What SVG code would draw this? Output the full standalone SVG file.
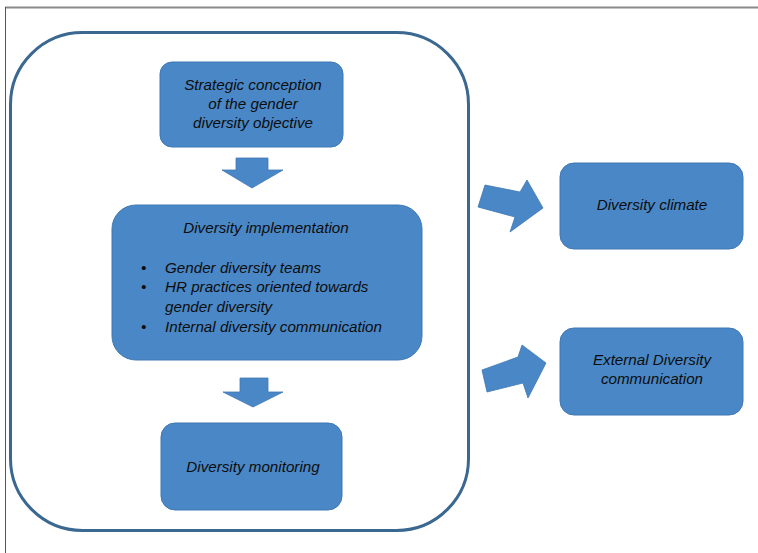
<svg xmlns="http://www.w3.org/2000/svg" width="758" height="553" viewBox="0 0 758 553">
  <style>
    .box { fill: #4A87C6; stroke: #3F78B3; stroke-width: 1; }
    .arrow { fill: #4A87C6; stroke: #3F78B3; stroke-width: 0.8; }
    .lbl { font-family: "Liberation Sans", Arial, sans-serif; font-style: italic; font-size: 15.2px; fill: #0d0d0d; }
    .mid { text-anchor: middle; }
  </style>
  <rect width="758" height="553" fill="#ffffff"/>

  <!-- page frame -->
  <line x1="5" y1="7.5" x2="758" y2="7.5" stroke="#8a8a8a" stroke-width="2"/>
  <line x1="5.5" y1="7" x2="5.5" y2="553" stroke="#555" stroke-width="1"/>

  <!-- internal process container -->
  <g id="container">
    <rect x="10.5" y="32.5" width="458" height="498" rx="72" ry="72" fill="none" stroke="#3B6890" stroke-width="3"/>
  </g>

  <g id="strategic-conception">
    <rect class="box" x="160" y="62" width="183" height="85" rx="12"/>
    <text class="lbl mid" x="253" y="90">Strategic conception</text>
    <text class="lbl mid" x="253" y="109">of the gender</text>
    <text class="lbl mid" x="253" y="128">diversity objective</text>
  </g>

  <g id="diversity-implementation">
    <rect class="box" x="112" y="205" width="310" height="155" rx="24"/>
    <text class="lbl mid" x="266" y="233">Diversity implementation</text>
    <text class="lbl" x="141" y="273">•</text>
    <text class="lbl" x="165" y="273">Gender diversity teams</text>
    <text class="lbl" x="141" y="292">•</text>
    <text class="lbl" x="165" y="292">HR practices oriented towards</text>
    <text class="lbl" x="165" y="312">gender diversity</text>
    <text class="lbl" x="141" y="332">•</text>
    <text class="lbl" x="165" y="332">Internal diversity communication</text>
  </g>

  <g id="diversity-monitoring">
    <rect class="box" x="161" y="423" width="181" height="87" rx="14"/>
    <text class="lbl mid" x="253" y="472">Diversity monitoring</text>
  </g>

  <g id="diversity-climate">
    <rect class="box" x="560" y="163" width="183" height="86" rx="14"/>
    <text class="lbl mid" x="652" y="210">Diversity climate</text>
  </g>

  <g id="external-communication">
    <rect class="box" x="560" y="328" width="183" height="87" rx="14"/>
    <text class="lbl mid" x="652" y="365">External Diversity</text>
    <text class="lbl mid" x="652" y="384">communication</text>
  </g>

  <!-- block arrows between stages -->
  <g id="connectors">
    <polygon class="arrow" points="236,158 268,158 268,170 283,170 252,188 222,170 236,170"/>
    <polygon class="arrow" points="240,378 268,378 268,392 283,392 253,407 223,392 240,392"/>
    <polygon class="arrow" points="485,185 520,192 527,180 543,208 510,232 515,217 478,207"/>
    <polygon class="arrow" points="482,370 518,357 522,345 546,363 528,398 523,383 487,392"/>
  </g>
</svg>
